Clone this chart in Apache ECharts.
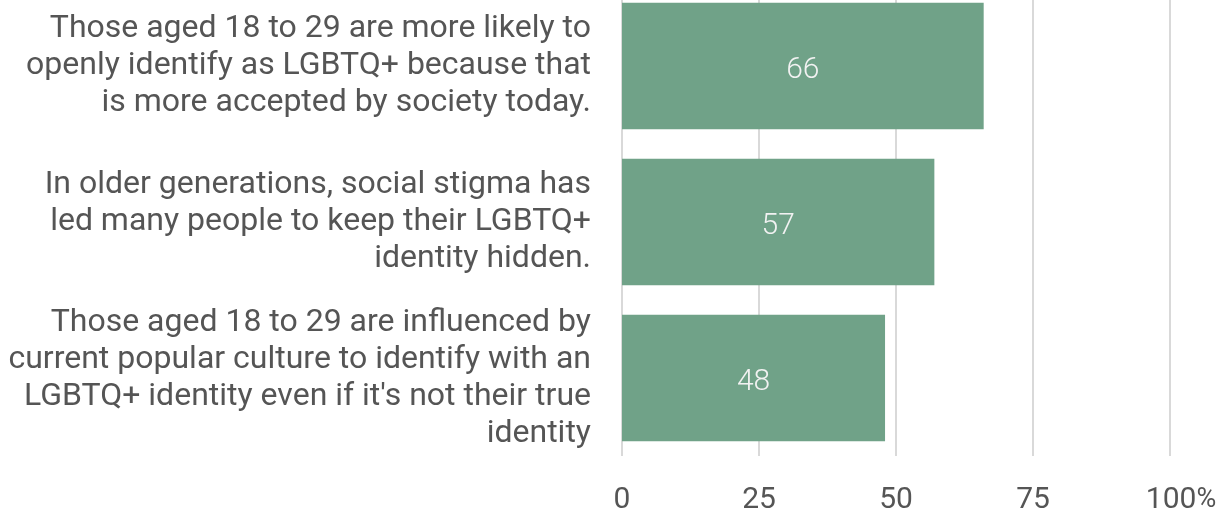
<!DOCTYPE html>
<html>
<head>
<meta charset="utf-8">
<script src="https://cdn.jsdelivr.net/npm/echarts@6/dist/echarts.min.js"></script>
<style>
html, body { margin: 0; padding: 0; background: #fff; overflow: hidden; }
/* the plot band starts a little above the window, so shift the canvas up */
#main { width: 1231px; height: 527px; margin-top: -12px; }
</style>
</head>
<body>
<div id="main"></div>
<script>
// categories, top to bottom
var categories = [
	'Those aged 18 to 29 are more likely to\nopenly identify as LGBTQ+ because that\nis more accepted by society today.',
	'In older generations, social stigma has\nled many people to keep their LGBTQ+\nidentity hidden.',
	'Those aged 18 to 29 are influenced by\ncurrent popular culture to identify with an\nLGBTQ+ identity even if it\'s not their true\nidentity'
];
var values = [66, 57, 48];
var ticks = [0, 25, 50, 75, 100];

var myChart = echarts.init(document.getElementById('main'));

var option = {
	animation: false,
	textStyle: { fontFamily: 'Roboto' },
	grid: {
		left: 622,
		right: 61,
		top: 0,
		bottom: 55,
		containLabel: false
	},
	xAxis: {
		type: 'value',
		min: ticks[0],
		max: ticks[ticks.length - 1],
		interval: 25,
		axisLine: { show: false },
		axisTick: { show: false },
		splitLine: { show: true, lineStyle: { color: '#d9d9d9', width: 2 } },
		axisLabel: {
			margin: 29,
			fontSize: 30,
			color: '#555555',
			formatter: function (v) {
				if (v === 100) return '{n|100}{p|%}';
				return '' + v;
			},
			rich: {
				n: { fontSize: 30, color: '#555555', padding: [0, 0, 0, 22] },
				p: { fontSize: 27, color: '#555555' }
			}
		}
	},
	yAxis: {
		type: 'category',
		inverse: true,
		data: categories,
		axisLine: { show: false },
		axisTick: { show: false },
		axisLabel: {
			margin: 31,
			fontSize: 32,
			lineHeight: 37,
			color: '#555555',
			align: 'right'
		}
	},
	series: [
		{
			type: 'bar',
			data: values,
			barCategoryGap: '19%',
			itemStyle: { color: '#70a288' },
			label: {
				show: true,
				position: 'inside',
				offset: [0, 4],
				fontSize: 30,
				fontWeight: 300,
				color: '#f2f2f2'
			}
		}
	]
};

myChart.setOption(option);
</script>
</body>
</html>
